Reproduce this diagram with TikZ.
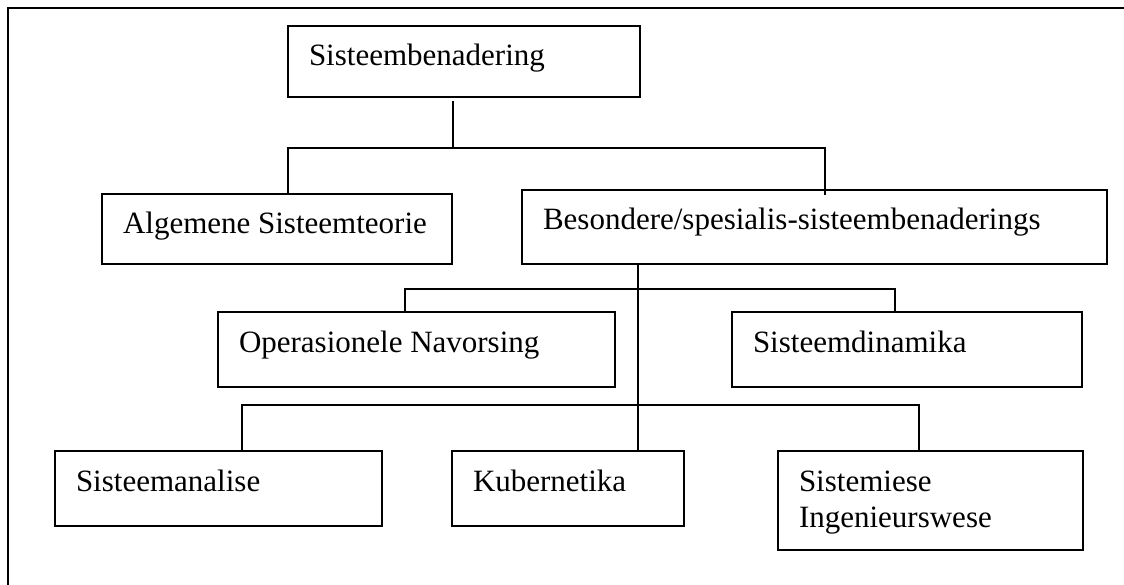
\documentclass[tikz,border=0pt]{standalone}
\usepackage{fontspec}
\setmainfont{Liberation Serif}
\newcommand\boxtxt[3]{\parbox[c][#2][t]{#1}{\leftskip=21pt\rightskip=0pt plus 1fil\parindent=0pt\rule{0pt}{40pt}#3}}
\tikzset{
  bx/.style={draw=black, fill=white, line width=1.3pt, inner sep=0pt, outer sep=0pt, anchor=north west,
    font=\fontsize{31}{36}\selectfont},
  conn/.style={draw=black, line width=1.2pt},
  frame/.style={draw=black, line width=1.6pt}
}
\begin{document}
\begin{tikzpicture}[x=1pt, y=-1pt]
\useasboundingbox (0,0) rectangle (1124,585);
% open frame (top and left edges)
\coordinate (fBL) at (8,590);
\coordinate (fTL) at (8,8);
\coordinate (fTR) at (1130,8);
\draw[frame] (fBL) -- (fTL) -- (fTR);

% boxes
\node[bx] (sb)  at (288,26)  {\boxtxt{352pt}{71pt}{Sisteembenadering}};
\node[bx] (alg) at (102,194) {\boxtxt{350pt}{70pt}{Algemene Sisteemteorie}};
\node[bx] (bes) at (522,190) {\boxtxt{585pt}{74pt}{Besondere/spesialis-sisteembenaderings}};
\node[bx] (op)  at (218,312) {\boxtxt{397pt}{75pt}{Operasionele Navorsing}};
\node[bx] (sd)  at (732,312) {\boxtxt{350pt}{75pt}{Sisteemdinamika}};
\node[bx] (sa)  at (55,451)  {\boxtxt{327pt}{75pt}{Sisteemanalise}};
\node[bx] (kub) at (452,451) {\boxtxt{232pt}{75pt}{Kubernetika}};
\node[bx] (sie) at (778,451) {\boxtxt{305pt}{99pt}{Sistemiese\\Ingenieurswese}};

% junction coordinates
\coordinate (j1) at (453,148);
\coordinate (j1L) at (288,148);
\coordinate (j1R) at (825,148);
\coordinate (j2) at (638,289);
\coordinate (j2L) at (405,289);
\coordinate (j2R) at (895,289);
\coordinate (j3) at (638,405);
\coordinate (j3L) at (242,405);
\coordinate (j3R) at (919,405);

% connectors level 1
\draw[conn] ([yshift=-4pt]j1 |- sb.south) -- (j1);
\draw[conn] (alg.north -| j1L) -- (j1L) -- (j1R) -- ([yshift=-5pt]bes.north -| j1R);
% central trunk
\draw[conn] (j2 |- bes.south) -- (kub.north -| j2);
% level 2
\draw[conn] (op.north -| j2L) -- (j2L) -- (j2R) -- (sd.north -| j2R);
% level 3
\draw[conn] (sa.north -| j3L) -- (j3L) -- (j3R) -- (sie.north -| j3R);
\end{tikzpicture}
\end{document}
